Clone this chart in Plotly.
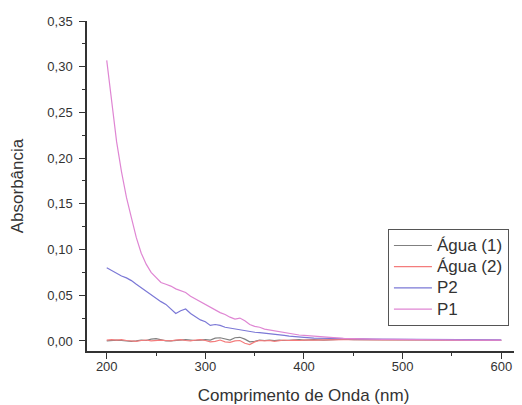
import plotly.graph_objects as go

wavelength = list(range(200, 401, 5)) + list(range(410, 601, 10))

agua1 = [0.000, 0.0005, 0.001, 0.0005, 0.000, -0.0005, 0.000, 0.001, 0.0005, 0.002,
         0.0025, 0.001, 0.000, 0.000, 0.0005, 0.001, 0.0015, 0.001, 0.0005, 0.001,
         0.0015, 0.001, 0.003, 0.0035, 0.002, 0.001, 0.0035, 0.004, 0.002, -0.001,
         -0.0005, 0.001, 0.0005, 0.001, 0.0005, 0.001, 0.0005, 0.001, 0.001, 0.0015,
         0.001,
         0.0015, 0.001, 0.0015, 0.002, 0.0015, 0.0015, 0.001, 0.0015, 0.001, 0.0012,
         0.001, 0.0012, 0.001, 0.001, 0.0008, 0.0008, 0.0008, 0.0006, 0.0006, 0.0005]

agua2 = [0.001, 0.0015, 0.001, 0.0015, 0.0005, 0.000, -0.0005, 0.0005, 0.001, 0.000,
         0.0005, 0.001, 0.0005, 0.000, 0.001, 0.0015, 0.0005, 0.000, 0.001, 0.0015,
         0.0005, -0.001, -0.0005, 0.001, -0.001, -0.0015, 0.000, 0.0005, -0.0025, -0.004,
         -0.001, 0.0005, 0.000, 0.0005, -0.0005, 0.0005, 0.001, 0.0005, 0.001, 0.0005,
         0.001,
         0.0008, 0.0012, 0.001, 0.0014, 0.0015, 0.0012, 0.0016, 0.0012, 0.0015, 0.0013,
         0.0015, 0.0012, 0.001, 0.0012, 0.001, 0.0009, 0.0008, 0.0008, 0.0007, 0.0006]

p2 = [0.080, 0.077, 0.074, 0.071, 0.069, 0.066, 0.062, 0.058, 0.055, 0.050,
      0.046, 0.043, 0.040, 0.035, 0.030, 0.033, 0.035, 0.030, 0.026, 0.023,
      0.021, 0.017, 0.018, 0.017, 0.015, 0.014, 0.013, 0.012, 0.011, 0.010,
      0.0095, 0.009, 0.0085, 0.008, 0.0072, 0.0065, 0.006, 0.0052, 0.0045, 0.004,
      0.0038,
      0.003, 0.0027, 0.0025, 0.0024, 0.0023, 0.0022, 0.0021, 0.002, 0.0022, 0.002,
      0.0019, 0.0021, 0.0018, 0.0017, 0.0016, 0.0015, 0.0014, 0.0013, 0.0012, 0.0011]

p1 = [0.307, 0.260, 0.218, 0.185, 0.157, 0.135, 0.113, 0.096, 0.084, 0.075,
      0.069, 0.064, 0.062, 0.060, 0.057, 0.055, 0.053, 0.049, 0.046, 0.043,
      0.040, 0.037, 0.034, 0.031, 0.029, 0.026, 0.024, 0.025, 0.022, 0.018,
      0.016, 0.015, 0.013, 0.012, 0.011, 0.010, 0.009, 0.008, 0.007, 0.0065,
      0.006,
      0.005, 0.004, 0.003, 0.0028, 0.0025, 0.002, 0.002, 0.0018, 0.0018, 0.0016,
      0.0015, 0.0015, 0.0014, 0.0012, 0.0012, 0.0011, 0.001, 0.001, 0.0009, 0.0008]

series = [
    ("Água (1)", agua1, "#808080"),
    ("Água (2)", agua2, "#f47c7c"),
    ("P2", p2, "#7b78d6"),
    ("P1", p1, "#df86d3"),
]

font_family = "Liberation Sans, Arial, sans-serif"
dark = "#333333"

fig = go.Figure()
for name, vals, color in series:
    fig.add_trace(go.Scatter(x=wavelength, y=vals, mode="lines",
                             name="<span style='font-size:17px'>" + name + "</span>",
                             line=dict(color=color, width=1.2)))

axis_common = dict(
    showline=True, linecolor=dark, linewidth=1.5, mirror=False,
    showgrid=False, zeroline=False, automargin=False,
    ticks="outside", ticklen=6, tickwidth=1.2, tickcolor=dark,
    tickfont=dict(size=13, color=dark, family=font_family),
)

fig.update_layout(
    width=514, height=397,
    margin=dict(l=79, r=2, t=13, b=54),
    paper_bgcolor="white", plot_bgcolor="white",
    separators=",.",
    font=dict(family=font_family, color=dark),
    xaxis=dict(range=[180, 619], tickvals=[200, 300, 400, 500, 600],
               ticklabelstandoff=-3,
               minor=dict(ticks="outside", ticklen=3, tickcolor=dark, dtick=50, tick0=0),
               title=dict(text="Comprimento de Onda (nm)", font=dict(size=17, color=dark),
                          standoff=19),
               **axis_common),
    yaxis=dict(range=[-0.011, 0.35], tickvals=[0, 0.05, 0.10, 0.15, 0.20, 0.25, 0.30, 0.35],
               tickformat=".2f", ticklabelstandoff=4,
               minor=dict(ticks="outside", ticklen=3, tickcolor=dark, dtick=0.025, tick0=0),
               title=dict(text="Absorbância", font=dict(size=17, color=dark), standoff=20),
               **axis_common),
    legend=dict(x=0.695, y=0.37, xanchor="left", yanchor="top",
                bordercolor="#555555", borderwidth=1, bgcolor="white",
                font=dict(size=14, color=dark, family=font_family),
                itemwidth=38, tracegroupgap=0),
    showlegend=True,
)

fig.write_html("out.html")
